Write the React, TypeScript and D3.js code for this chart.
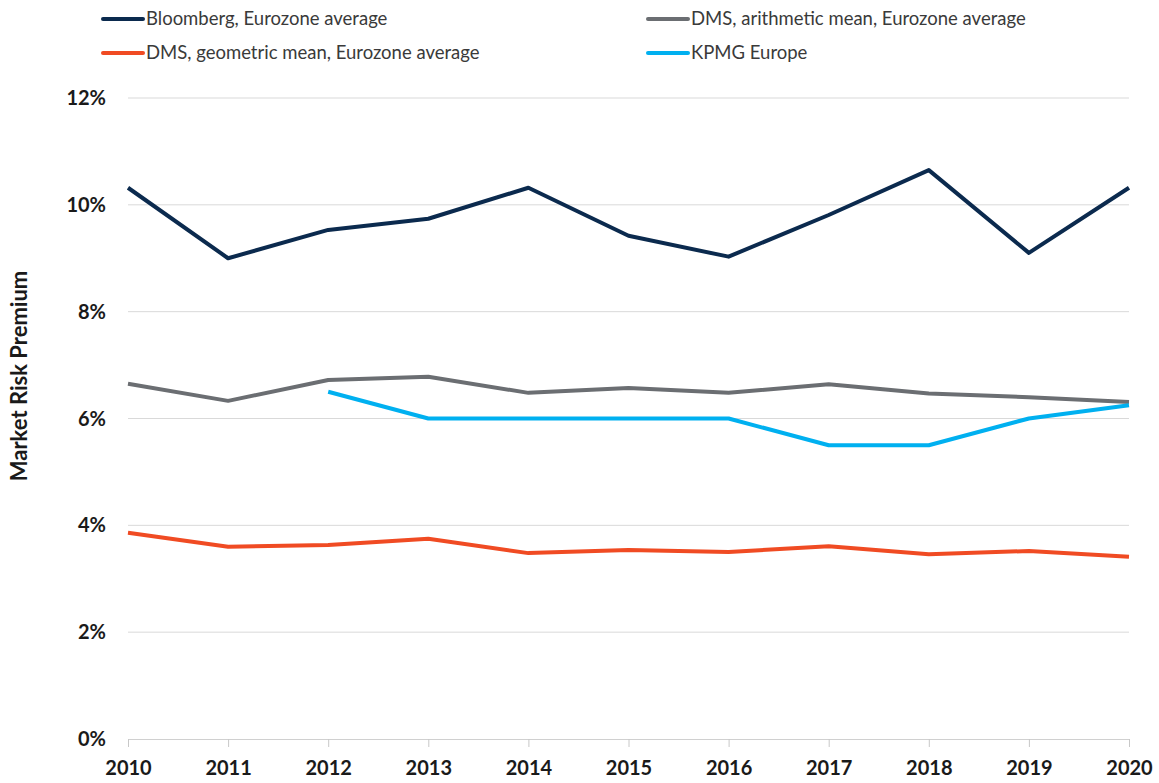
import React, { useEffect, useRef } from 'react';
import * as d3 from 'd3';

const years = [2010, 2011, 2012, 2013, 2014, 2015, 2016, 2017, 2018, 2019, 2020];
const bloomberg = [10.32, 9.0, 9.53, 9.74, 10.32, 9.42, 9.03, 9.81, 10.65, 9.1, 10.32];
const dmsArith = [6.65, 6.33, 6.72, 6.78, 6.48, 6.57, 6.48, 6.64, 6.47, 6.4, 6.31];
const dmsGeo = [3.86, 3.6, 3.63, 3.75, 3.48, 3.54, 3.5, 3.61, 3.46, 3.52, 3.41];
const kpmg = [null, null, 6.5, 6.0, 6.0, 6.0, 6.0, 5.5, 5.5, 6.0, 6.25];
const yTicks = [0, 2, 4, 6, 8, 10, 12];

const series = [
  { name: 'Bloomberg, Eurozone average', values: bloomberg, color: '#0b2a4e' },
  { name: 'DMS, arithmetic mean, Eurozone average', values: dmsArith, color: '#6b6e72' },
  { name: 'DMS, geometric mean, Eurozone average', values: dmsGeo, color: '#f04b23' },
  { name: 'KPMG Europe', values: kpmg, color: '#00b0f0' },
];

const App = () => {
  const ref = useRef<SVGSVGElement>(null);

  useEffect(() => {
    const svg = d3.select(ref.current);
    svg.selectAll('*').remove();

    const font = "Lato, 'Open Sans', sans-serif";
    const x = d3.scaleLinear().domain([2010, 2020]).range([128, 1129]);
    const y = d3.scaleLinear().domain([0, 12]).range([739, 98]);

    // gridlines
    svg.append('g')
      .selectAll('line')
      .data(yTicks.filter(t => t > 0))
      .join('line')
        .attr('x1', x(2010))
        .attr('x2', x(2020))
        .attr('y1', d => y(d))
        .attr('y2', d => y(d))
        .attr('stroke', '#d9d9d9')
        .attr('stroke-width', 1);

    // x axis
    const xAxis = svg.append('g')
      .attr('transform', `translate(0,${y(0)})`)
      .call(d3.axisBottom(x).tickValues(years).tickFormat(d3.format('d')).tickSize(8).tickPadding(14));
    xAxis.select('.domain').attr('stroke', '#d0d0d0');
    xAxis.selectAll('.tick line').attr('stroke', '#c8c8c8');
    xAxis.selectAll('text')
      .attr('font-family', font)
      .attr('font-size', 20)
      .attr('font-weight', 'bold')
      .attr('fill', '#1a1a1a');

    // y axis labels
    svg.append('g')
      .selectAll('text')
      .data(yTicks)
      .join('text')
        .attr('x', 106)
        .attr('y', d => y(d))
        .attr('dy', '0.35em')
        .attr('text-anchor', 'end')
        .attr('font-family', font)
        .attr('font-size', 20)
        .attr('font-weight', 'bold')
        .attr('fill', '#1a1a1a')
        .text(d => `${d}%`);

    svg.append('text')
      .attr('transform', `translate(27,376) rotate(-90)`)
      .attr('text-anchor', 'middle')
      .attr('font-family', font)
      .attr('font-size', 22)
      .attr('font-weight', 'bold')
      .attr('fill', '#1a1a1a')
      .text('Market Risk Premium');

    // lines
    const line = d3.line<number | null>()
      .defined(d => d !== null)
      .x((d, i) => x(years[i]))
      .y(d => y(d as number));

    svg.append('g')
      .selectAll('path')
      .data(series)
      .join('path')
        .attr('d', d => line(d.values))
        .attr('fill', 'none')
        .attr('stroke', d => d.color)
        .attr('stroke-width', 4)
        .attr('stroke-linejoin', 'round');

    // legend
    const legendPos = [[103, 19], [648, 19], [103, 53], [648, 53]];
    const legend = svg.append('g')
      .selectAll('g')
      .data(series)
      .join('g')
        .attr('transform', (d, i) => `translate(${legendPos[i][0]},${legendPos[i][1]})`);
    legend.append('line')
      .attr('x1', 0)
      .attr('x2', 40)
      .attr('stroke', d => d.color)
      .attr('stroke-width', 4)
      .attr('stroke-linecap', 'round');
    legend.append('text')
      .attr('x', 43)
      .attr('dy', '0.35em')
      .attr('font-family', font)
      .attr('font-size', 18.5)
      .attr('fill', '#3a3a3a')
      .text(d => d.name);
  }, []);

  return (
    <svg ref={ref} width={1159} height={783} style={{ position: 'absolute', left: 0, top: 0 }}></svg>
  );
};

export default App;
